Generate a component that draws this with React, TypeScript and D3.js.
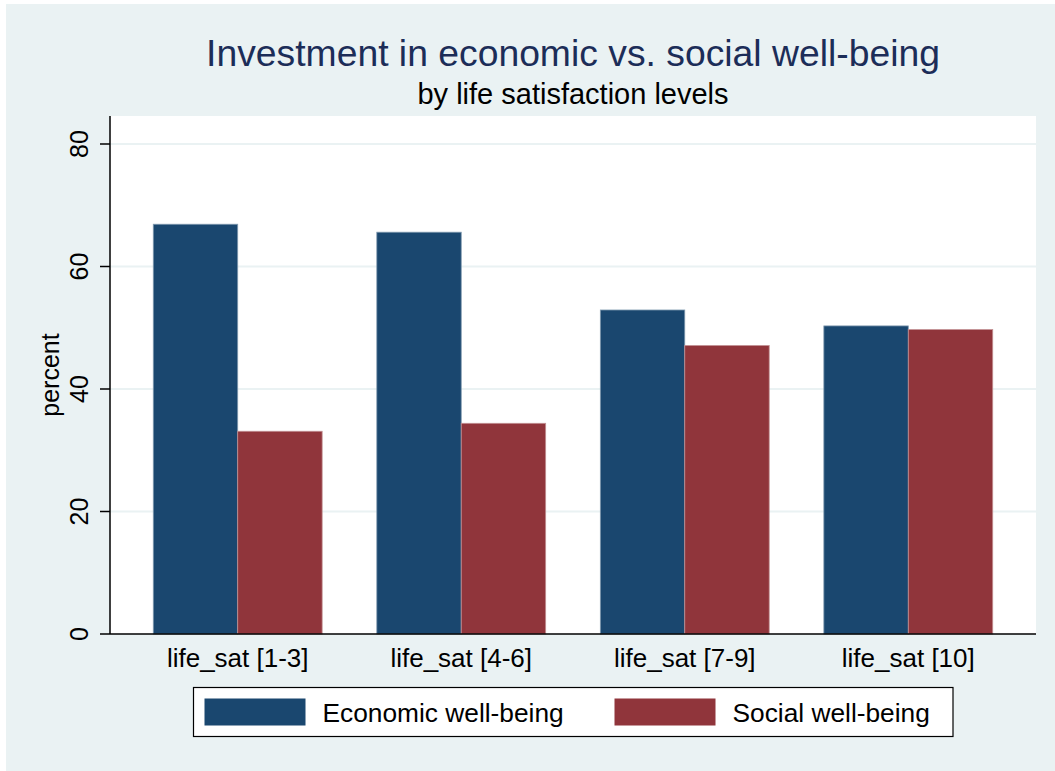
import React from "react";
import * as d3 from "d3";

const categories = ["life_sat [1-3]", "life_sat [4-6]", "life_sat [7-9]", "life_sat [10]"];
const seriesNames = ["Economic well-being", "Social well-being"];
const economic = [66.9, 65.6, 52.9, 50.3];
const social = [33.1, 34.4, 47.1, 49.7];
const yTicks = [0, 20, 40, 60, 80];
const seriesColors = ["#1a476f", "#90353b"];

const W = 1055;
const H = 771;
const plot = { left: 110, right: 1036, top: 116, bottom: 634 };
const FONT = "'Liberation Sans', Arial, Helvetica, sans-serif";

export default function App() {
  const y = d3.scaleLinear().domain([0, 80]).range([plot.bottom, plot.bottom - 490]);
  const x0 = d3
    .scaleBand<string>()
    .domain(categories)
    .range([plot.left, plot.right])
    .paddingInner(0.2445)
    .paddingOuter(0.1936);
  const x1 = d3.scaleBand<number>().domain([0, 1]).range([0, x0.bandwidth()]);
  const series = [economic, social];
  const cx = (plot.left + plot.right) / 2;

  return (
    <div style={{ position: "absolute", left: 0, top: 0 }}>
      <svg width={W} height={H} style={{ display: "block", fontFamily: FONT }}>
        <rect x={0} y={0} width={W} height={H} fill="#ffffff" />
        <rect x={6} y={4} width={W - 6} height={H - 4} fill="#eaf2f3" />
        <rect
          x={plot.left}
          y={plot.top}
          width={plot.right - plot.left}
          height={plot.bottom - plot.top}
          fill="#ffffff"
        />
        {yTicks
          .filter((t) => t > 0)
          .map((t) => (
            <line
              key={"g" + t}
              x1={plot.left}
              x2={plot.right}
              y1={y(t)}
              y2={y(t)}
              stroke="#eaf2f3"
              strokeWidth={2}
            />
          ))}
        {categories.map((c, i) => (
          <g key={c} transform={`translate(${x0(c)},0)`}>
            {series.map((s, j) => {
              const base = d3.color(seriesColors[j])!;
              const edge = d3.interpolateRgb(seriesColors[j], "#ffffff")(0.45);
              return (
                <rect
                  key={j}
                  x={x1(j)!}
                  y={y(s[i])}
                  width={x1.bandwidth()}
                  height={plot.bottom - y(s[i])}
                  fill={base.toString()}
                  stroke={edge}
                  strokeWidth={0.8}
                />
              );
            })}
          </g>
        ))}
        {/* axes */}
        <line x1={plot.left} x2={plot.left} y1={plot.top} y2={plot.bottom} stroke="#000" strokeWidth={1.5} />
        <line x1={plot.left} x2={plot.right} y1={plot.bottom} y2={plot.bottom} stroke="#000" strokeWidth={1.5} />
        {yTicks.map((t) => (
          <g key={"t" + t}>
            <line x1={plot.left - 10} x2={plot.left} y1={y(t)} y2={y(t)} stroke="#000" strokeWidth={1.5} />
            <text
              transform={`translate(88,${y(t)}) rotate(-90)`}
              textAnchor="middle"
              fontSize={25}
              fill="#000"
            >
              {t}
            </text>
          </g>
        ))}
        <text
          transform={`translate(59,${(plot.top + plot.bottom) / 2}) rotate(-90)`}
          textAnchor="middle"
          fontSize={25}
          fill="#000"
        >
          percent
        </text>
        {categories.map((c) => (
          <text
            key={"l" + c}
            x={x0(c)! + x0.bandwidth() / 2}
            y={667}
            textAnchor="middle"
            fontSize={26}
            fill="#000"
          >
            {c}
          </text>
        ))}
        {/* titles */}
        <text x={cx} y={66} textAnchor="middle" fontSize={37.3} fill="#1c2d58">
          Investment in economic vs. social well-being
        </text>
        <text x={cx} y={104} textAnchor="middle" fontSize={29} fill="#000">
          by life satisfaction levels
        </text>
        {/* legend */}
        <rect x={193.5} y={687.5} width={759.5} height={49} fill="#ffffff" stroke="#000" strokeWidth={1.2} />
        {seriesNames.map((n, j) => {
          const lx = j === 0 ? 204.5 : 614.5;
          return (
            <g key={n}>
              <rect x={lx} y={698.5} width={101} height={27} fill={seriesColors[j]} />
              <text x={lx + 118} y={722} fontSize={26.3} fill="#000">
                {n}
              </text>
            </g>
          );
        })}
      </svg>
    </div>
  );
}
